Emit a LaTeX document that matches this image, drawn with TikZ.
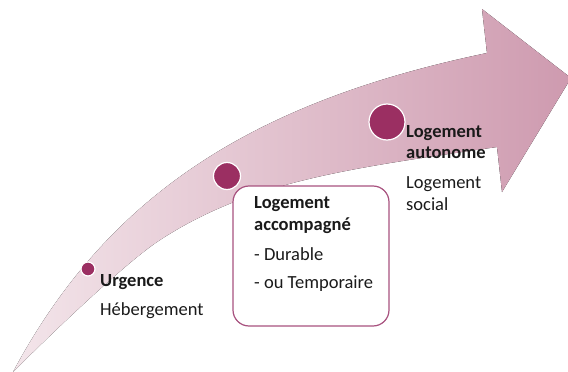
\documentclass[tikz,border=0pt]{standalone}
\usepackage{fontspec}
\setmainfont{Carlito}
\definecolor{tailpink}{HTML}{F3E5EA}
\definecolor{headpink}{HTML}{CE9AAF}
\definecolor{dotfill}{HTML}{9B2F62}
\definecolor{boxline}{HTML}{A8527F}
\definecolor{txt}{HTML}{1A1A1A}
\begin{document}
\begin{tikzpicture}[x=1pt,y=-1pt,
  dot/.style={circle,fill=dotfill,draw=white,line width=1.2pt,inner sep=0pt},
  lbl/.style={anchor=base west,inner sep=0pt,text=txt,font=\fontsize{18.5}{21.5}\selectfont},
  ttl/.style={lbl,font=\fontsize{18.5}{21.5}\selectfont\bfseries},
  stagebox/.style={draw=boxline,line width=1.2pt,fill=white,rounded corners=16pt,
    minimum width=156pt,minimum height=140pt,inner sep=0pt}]
\useasboundingbox (0,0) rectangle (568,372);
\clip (0,0) rectangle (568,372);
% curved arrow
\fill[left color=tailpink,right color=headpink]
  (13,372) .. controls (107.5,195) and (252.5,102) .. (487,53)
  -- (482,9) -- (571,78) -- (502,192) -- (497,147)
  .. controls (347,168.6) and (250,181.5) .. (160,240)
  .. controls (125,262.75) and (48,337) .. (13,372) -- cycle;
% box
\node[stagebox] (acc) at (311,256) {};
% dots
\node[dot,minimum size=14pt] (d1) at (88,269) {};
\node[dot,minimum size=27pt] (d2) at (227,176) {};
\node[dot,minimum size=36pt] (d3) at (387,122) {};
% texts
\node[ttl] (u1) at (100,286) {Urgence};
\node[lbl] (u2) at (100,315) {Hébergement};
\node[ttl] (a1) at (254,208) {Logement};
\node[ttl] (a2) at (254,230) {accompagné};
\node[lbl] (a3) at (254,260) {- Durable};
\node[lbl] (a4) at (254,288) {- ou Temporaire};
\node[ttl] (l1) at (406,137) {Logement};
\node[ttl] (l2) at (406,158) {autonome};
\node[lbl] (l3) at (406,188) {Logement};
\node[lbl] (l4) at (406,210) {social};
\end{tikzpicture}
\end{document}
